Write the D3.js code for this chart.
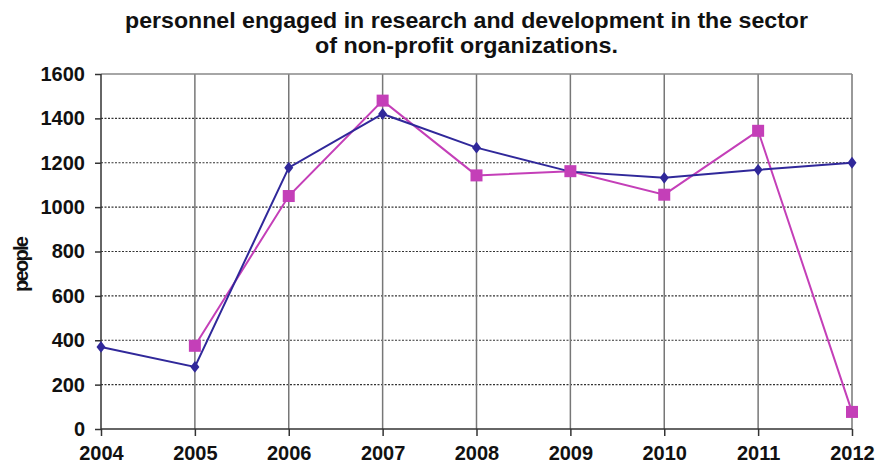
<!DOCTYPE html>
<html><head><meta charset="utf-8">
<script src="https://cdn.jsdelivr.net/npm/d3@7"></script>
<style>body{margin:0;background:#fff;}svg{display:block;font-family:"Liberation Sans",Arial,sans-serif;}</style>
</head><body><svg id="c" width="882" height="467"></svg>
<script>
const years = [2004, 2005, 2006, 2007, 2008, 2009, 2010, 2011, 2012];
const seriesBlue = [370, 280, 1178, 1420, 1268, 1160, 1132, 1168, 1200];
const seriesPink = [null, 375, 1050, 1480, 1143, 1162, 1056, 1344, 77];
const yTicks = [0, 200, 400, 600, 800, 1000, 1200, 1400, 1600];
const titleLines = ["personnel engaged in research and development in the sector", "of non-profit organizations."];
const yLabel = "people";

const svg = d3.select("#c");
const L = 101, R = 852, T = 74, B = 429;
const x = d3.scalePoint().domain(years).range([L, R]);
const y = d3.scaleLinear().domain([0, 1600]).range([B, T]);

// horizontal dotted grid
svg.append("g").selectAll("line").data(yTicks.filter(d => d > 0 && d < 1600)).join("line")
  .attr("x1", L).attr("x2", R).attr("y1", d => y(d)).attr("y2", d => y(d))
  .attr("stroke", "#333").attr("stroke-width", 1.2).attr("stroke-dasharray", "2,1.5");
// vertical grid
svg.append("g").selectAll("line").data(years.slice(1)).join("line")
  .attr("x1", d => x(d)).attr("x2", d => x(d)).attr("y1", T).attr("y2", B)
  .attr("stroke", "#777").attr("stroke-width", 1.5);
// top border
svg.append("line").attr("x1", L).attr("x2", R).attr("y1", T).attr("y2", T).attr("stroke", "#888").attr("stroke-width", 1.5);

// axes
const yAxis = svg.append("g").attr("transform", `translate(${L},0)`)
  .call(d3.axisLeft(y).tickValues(yTicks).tickSize(6).tickPadding(10).tickFormat(d3.format("d")));
const xAxis = svg.append("g").attr("transform", `translate(0,${B})`)
  .call(d3.axisBottom(x).tickSize(7).tickPadding(10));
[yAxis, xAxis].forEach(a => {
  a.select(".domain").attr("stroke", "#333").attr("stroke-width", 1.5);
  a.selectAll(".tick line").attr("stroke", "#333").attr("stroke-width", 1.5);
  a.selectAll("text").attr("fill", "#111").attr("font-size", 20).attr("font-weight", "bold")
   .attr("font-family", "'Liberation Sans',Arial,sans-serif");
});
xAxis.select(".domain").attr("d", `M${L},0H${R}`);
yAxis.select(".domain").attr("d", `M0,${B}V${T}`);

// lines
const line = d3.line().defined(d => d.v != null).x(d => x(d.year)).y(d => y(d.v));
const blue = "#30289a", pink = "#c43fb8";
const bData = years.map((yr, i) => ({year: yr, v: seriesBlue[i]}));
const pData = years.map((yr, i) => ({year: yr, v: seriesPink[i]}));

svg.append("path").datum(pData).attr("d", line).attr("fill", "none").attr("stroke", pink).attr("stroke-width", 2);
svg.append("path").datum(bData).attr("d", line).attr("fill", "none").attr("stroke", blue).attr("stroke-width", 2);

svg.append("g").selectAll("path").data(bData.filter(d => d.v != null)).join("path")
  .attr("d", d3.symbol(d3.symbolDiamond, 64)())
  .attr("transform", d => `translate(${x(d.year)},${y(d.v)}) scale(1.05,0.8)`).attr("fill", blue);
svg.append("g").selectAll("rect").data(pData.filter(d => d.v != null)).join("rect")
  .attr("x", d => x(d.year) - 6).attr("y", d => y(d.v) - 6).attr("width", 12).attr("height", 12)
  .attr("fill", pink);

// title
svg.append("text").attr("x", 466.5).attr("y", 28).attr("text-anchor", "middle")
  .attr("font-size", 22).attr("font-weight", "bold").attr("fill", "#111")
  .attr("textLength", 683).attr("lengthAdjust", "spacingAndGlyphs").text(titleLines[0]);
svg.append("text").attr("x", 466.5).attr("y", 53).attr("text-anchor", "middle")
  .attr("font-size", 22).attr("font-weight", "bold").attr("fill", "#111")
  .attr("textLength", 303).attr("lengthAdjust", "spacingAndGlyphs").text(titleLines[1]);

// y label
svg.append("text").attr("transform", "translate(28,264) rotate(-90)").attr("text-anchor", "middle")
  .attr("font-size", 20).attr("font-weight", "bold").attr("fill", "#111")
  .attr("textLength", 56).attr("lengthAdjust", "spacing").text(yLabel);
</script></body></html>
